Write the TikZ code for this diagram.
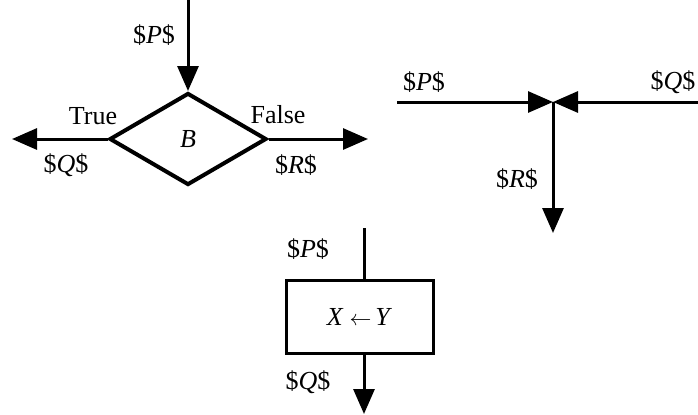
\documentclass[tikz,border=0pt]{standalone}
\usepackage{fontspec}
\setmainfont{Liberation Serif}
\usetikzlibrary{arrows.meta, shapes.geometric}

\begin{document}
\begin{tikzpicture}[
    x=0.5pt, y=-0.5pt,
    font=\fontsize{13}{15}\selectfont,
    arr/.style={-{Triangle[length=12.5pt, width=10.5pt]}, line width=1.5pt},
    decision/.style={draw, diamond, line width=2pt, inner sep=0pt,
      minimum width=78.5pt, minimum height=46pt},
    process/.style={draw, rectangle, line width=1.5pt, inner sep=0pt,
      minimum width=73.5pt, minimum height=36.5pt},
    lbl/.style={inner sep=0pt}
  ]
  \useasboundingbox (0,0) rectangle (698,414);

  % test node with two exits
  \node[decision] (cond) at (188,139) {\textit{B}};
  \coordinate (condin) at (188,0);
  \coordinate (condT) at (12,139);
  \coordinate (condF) at (368,139);
  \draw[arr] (condin) -- (cond.north);
  \draw[arr] (cond.west) -- (condT);
  \draw[arr] (cond.east) -- (condF);
  \node[lbl] (condP) at (154,35) {\$\textit{P}\$};
  \node[lbl] (condTrue) at (93,116) {True};
  \node[lbl] (condQ) at (66,165) {\$\textit{Q}\$};
  \node[lbl] (condFalse) at (278,115) {False};
  \node[lbl] (condR) at (296,165) {\$\textit{R}\$};

  % join of two flows
  \coordinate (merge) at (553,102);
  \coordinate (mergeP) at (397,102);
  \coordinate (mergeQ) at (698,102);
  \coordinate (mergeR) at (553,233);
  \draw[arr] (mergeP) -- (merge);
  \draw[arr] (mergeQ) -- (merge);
  \draw[arr] (merge) -- (mergeR);
  \node[lbl] (joinP) at (424,82) {\$\textit{P}\$};
  \node[lbl] (joinQ) at (673,82) {\$\textit{Q}\$};
  \node[lbl] (joinR) at (517,179) {\$\textit{R}\$};

  % assignment box
  \node[process] (assign) at (359.5,316.5)
    {\textit{X}\hspace{3pt}{\fontsize{11}{13}\selectfont$\leftarrow$}\hspace{2pt}\textit{Y}};
  \coordinate (assignin) at (364,228);
  \coordinate (assignout) at (364,414);
  \draw[line width=1.5pt] (assignin) -- (assignin |- assign.north);
  \draw[arr] (assignout |- assign.south) -- (assignout);
  \node[lbl] (assignP) at (308,249) {\$\textit{P}\$};
  \node[lbl] (assignQ) at (308,382) {\$\textit{Q}\$};
\end{tikzpicture}
\end{document}
